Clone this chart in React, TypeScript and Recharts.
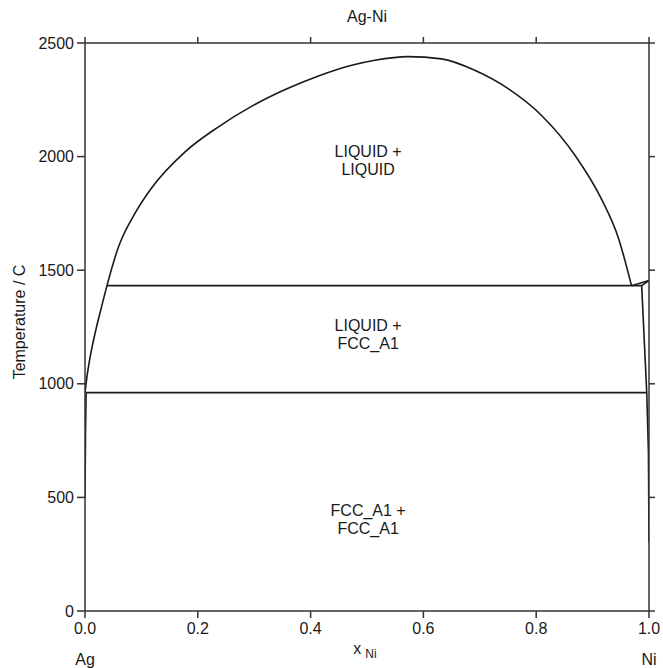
import React from "react";
import { LineChart, Line, XAxis, YAxis, ReferenceDot, Label } from "recharts";

const ink = "#1a1a1a";
const axisInk = "#333";

const xTicks = [0, 0.2, 0.4, 0.6, 0.8, 1.0];
const tTicks = [0, 500, 1000, 1500, 2000, 2500];

// Ag-side liquidus running into the liquid miscibility gap
const liquidusX = [0, 0.004, 0.01, 0.02, 0.03, 0.039, 0.059, 0.089, 0.118, 0.177, 0.236, 0.296, 0.355, 0.414, 0.473, 0.514, 0.573, 0.632, 0.691, 0.751, 0.81, 0.869, 0.916, 0.946, 0.969];
const liquidusT = [961, 1040, 1130, 1245, 1345, 1432, 1600, 1752, 1862, 2020, 2130, 2222, 2295, 2355, 2402, 2424, 2440, 2430, 2380, 2298, 2180, 2005, 1812, 1640, 1432];

// invariant lines
const monotecticX = [0.039, 0.987];
const monotecticT = [1432, 1432];
const eutecticX = [0.002, 0.996];
const eutecticT = [961, 961];

// Ni-rich side
const niLiquidusX = [0.969, 1.0];
const niLiquidusT = [1432, 1455];
const niSolidusX = [0.987, 1.0];
const niSolidusT = [1432, 1455];
const niSolvusX = [0.987, 0.996, 0.999, 1.0];
const niSolvusT = [1432, 961, 700, 300];

// Ag-rich solvus
const agSolvusX = [0, 0.001, 0.002];
const agSolvusT = [500, 800, 961];

const zip = (xs: number[], ts: number[]) => xs.map((x, i) => ({ x, t: ts[i] }));

const series = [
  { key: "liquidus", data: zip(liquidusX, liquidusT), type: "monotone" as const },
  { key: "monotectic", data: zip(monotecticX, monotecticT), type: "linear" as const },
  { key: "eutectic", data: zip(eutecticX, eutecticT), type: "linear" as const },
  { key: "niLiquidus", data: zip(niLiquidusX, niLiquidusT), type: "linear" as const },
  { key: "niSolidus", data: zip(niSolidusX, niSolidusT), type: "linear" as const },
  { key: "niSolvus", data: zip(niSolvusX, niSolvusT), type: "linear" as const },
  { key: "agSolvus", data: zip(agSolvusX, agSolvusT), type: "linear" as const },
];

const regionLabels = [
  { x: 0.502, t: 1987, lines: ["LIQUID +", "LIQUID"] },
  { x: 0.502, t: 1217, lines: ["LIQUID +", "FCC_A1"] },
  { x: 0.502, t: 407, lines: ["FCC_A1 +", "FCC_A1"] },
];

const RegionText = (lines: string[]) => (props: any) => {
  const { cx, cy } = props;
  return (
    <text x={cx} y={cy} textAnchor="middle" fontSize={16} fill={ink}>
      <tspan x={cx} dy={-3}>{lines[0]}</tspan>
      <tspan x={cx} dy={18}>{lines[1]}</tspan>
    </text>
  );
};

const TitleLabel = (props: any) => {
  const { x, y, width } = props.viewBox;
  return (
    <text x={x + width / 2} y={y + 22} textAnchor="middle" fontSize={16} fill={ink}>
      Ag-Ni
    </text>
  );
};

const XTitle = (props: any) => {
  const { x, y, width } = props.viewBox;
  return (
    <g fill={ink}>
      <text x={x + width / 2 - 2} y={y + 43} textAnchor="middle" fontSize={16}>
        x<tspan dx={4} dy={4} fontSize={12}>Ni</tspan>
      </text>
      <text x={x} y={y + 54} textAnchor="middle" fontSize={16}>Ag</text>
      <text x={x + width} y={y + 54} textAnchor="middle" fontSize={16}>Ni</text>
    </g>
  );
};

const YTitle = (props: any) => {
  const { x, y, height } = props.viewBox;
  const cx = x + 25;
  const cy = y + height / 2 - 5;
  return (
    <text x={cx} y={cy} textAnchor="middle" fontSize={16} fill={ink} transform={`rotate(-90, ${cx}, ${cy})`}>
      Temperature / C
    </text>
  );
};

const axisLine = { stroke: axisInk, strokeWidth: 1.5 };
const tickStyle = { fill: ink, fontSize: 16 };

export default function App() {
  return (
    <div style={{ position: "absolute", left: 0, top: 0, fontFamily: "'Liberation Sans', Arial, sans-serif", background: "#fff" }}>
      <LineChart width={663} height={668} margin={{ top: 0, right: 0, bottom: 0, left: 0 }}>
        <XAxis
          xAxisId="bottom"
          dataKey="x"
          type="number"
          domain={[0, 1]}
          ticks={xTicks}
          interval={0}
          height={57}
          tickSize={7}
          tickMargin={5}
          tickFormatter={(v: number) => v.toFixed(1)}
          tick={tickStyle}
          axisLine={axisLine}
          tickLine={axisLine}
          allowDataOverflow
        >
          <Label content={XTitle} />
        </XAxis>
        <XAxis
          xAxisId="top"
          orientation="top"
          dataKey="x"
          type="number"
          domain={[0, 1]}
          ticks={xTicks}
          interval={0}
          height={43}
          tickSize={6}
          tickFormatter={() => ""}
          axisLine={axisLine}
          tickLine={axisLine}
          allowDataOverflow
        >
          <Label content={TitleLabel} />
        </XAxis>
        <YAxis
          yAxisId="left"
          dataKey="t"
          type="number"
          domain={[0, 2500]}
          ticks={tTicks}
          interval={0}
          width={85}
          tickSize={8}
          tickMargin={3}
          tick={tickStyle}
          axisLine={axisLine}
          tickLine={axisLine}
          allowDataOverflow
        >
          <Label content={YTitle} />
        </YAxis>
        <YAxis
          yAxisId="right"
          orientation="right"
          dataKey="t"
          type="number"
          domain={[0, 2500]}
          ticks={tTicks}
          interval={0}
          width={14}
          tickSize={6}
          tickFormatter={() => ""}
          axisLine={axisLine}
          tickLine={axisLine}
          allowDataOverflow
        />
        {series.map((s) => (
          <Line
            key={s.key}
            xAxisId="bottom"
            yAxisId="left"
            data={s.data}
            dataKey="t"
            type={s.type}
            stroke={ink}
            strokeWidth={1.6}
            dot={false}
            activeDot={false}
            isAnimationActive={false}
          />
        ))}
        {regionLabels.map((r) => (
          <ReferenceDot
            key={r.t}
            xAxisId="bottom"
            yAxisId="left"
            x={r.x}
            y={r.t}
            r={0}
            shape={RegionText(r.lines)}
          />
        ))}
      </LineChart>
    </div>
  );
}
